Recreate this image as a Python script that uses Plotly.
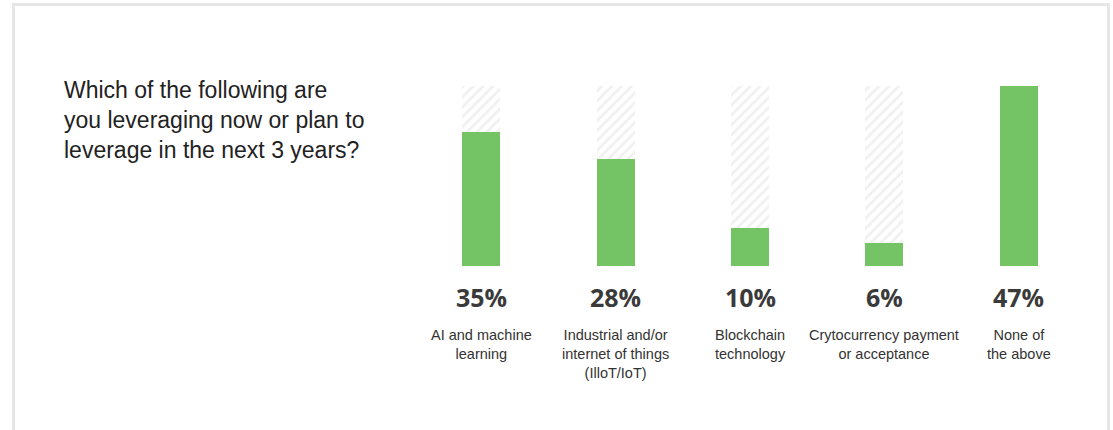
import plotly.graph_objects as go

# Survey results: share of respondents per technology
categories = [
    "AI and machine<br>learning",
    "Industrial and/or<br>internet of things<br>(IlloT/IoT)",
    "Blockchain<br>technology",
    "Crytocurrency payment<br>or acceptance",
    "None of<br>the above",
]
values = [35, 28, 10, 6, 47]
value_labels = ["35%", "28%", "10%", "6%", "47%"]
scale_max = 47
question = "Which of the following are<br>you leveraging now or plan to<br>leverage in the next 3 years?"

W, H = 1113, 430
ML, MR, MT, MB = 414, 27, 86, 164
pw = W - ML - MR
ph = H - MT - MB


def px_x(p):
    return (p - ML) / pw


def px_y(p):
    return (H - MB - p) / ph


GREEN = "#74c365"
x = list(range(len(categories)))

fig = go.Figure()

# hatched track behind each bar
fig.add_trace(go.Bar(
    x=x, y=[scale_max] * len(x), width=0.283,
    marker=dict(
        color="white",
        line=dict(width=0),
        pattern=dict(shape="/", fgcolor="#e2e2e2", bgcolor="white",
                     size=7, solidity=0.38),
    ),
    hoverinfo="skip", showlegend=False,
))

fig.add_trace(go.Bar(
    x=x, y=values, width=0.283,
    marker=dict(color=GREEN, line=dict(width=0)),
    showlegend=False,
))

annotations = []
for i, (cat, lab) in enumerate(zip(categories, value_labels)):
    annotations.append(dict(
        x=i, y=0, xref="x", yref="y", text=f"<b>{lab}</b>",
        showarrow=False, xanchor="center", yanchor="middle", yshift=-31,
        font=dict(family="Open Sans", size=25, color="#3a3a3a"),
    ))
    annotations.append(dict(
        x=i, y=0, xref="x", yref="y", text=cat,
        showarrow=False, xanchor="center", yanchor="top", yshift=-59,
        align="center",
        font=dict(family="Liberation Sans, Arial", size=14.5, color="#333333"),
    ))

annotations.append(dict(
    x=px_x(62), y=px_y(75), xref="paper", yref="paper", text=question,
    showarrow=False, xanchor="left", yanchor="top", align="left",
    font=dict(family="Liberation Sans, Arial", size=23, color="#222222"),
))

# light frame around the card
fig.add_shape(
    type="rect", xref="paper", yref="paper",
    x0=px_x(13.5), x1=px_x(1108.5), y0=px_y(445), y1=px_y(4.5),
    line=dict(color="#e6e6e6", width=3), fillcolor="rgba(0,0,0,0)",
    layer="below",
)

fig.update_layout(
    width=W, height=H,
    margin=dict(l=ML, r=MR, t=MT, b=MB, pad=0),
    paper_bgcolor="white", plot_bgcolor="white",
    barmode="overlay", bargap=0,
    xaxis=dict(range=[-0.5, len(x) - 0.5], visible=False, fixedrange=True),
    yaxis=dict(range=[0, scale_max], visible=False, fixedrange=True),
    annotations=annotations,
)

fig.write_html("out.html")
